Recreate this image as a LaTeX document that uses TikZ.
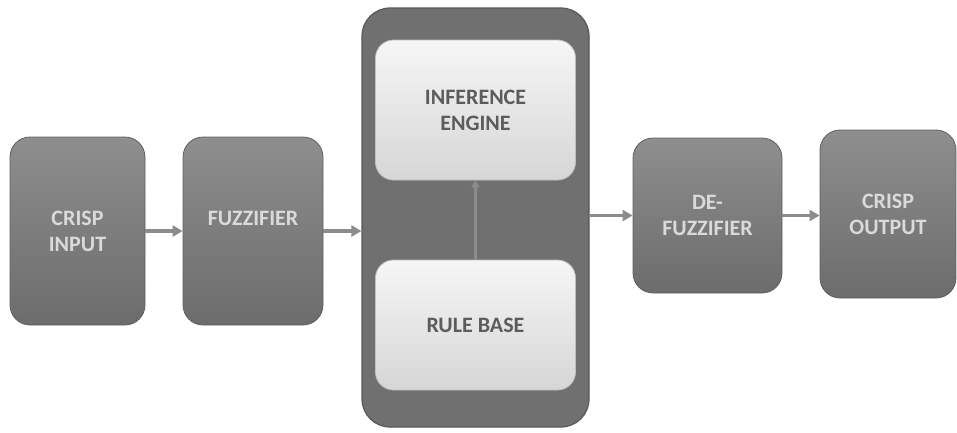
\documentclass[tikz,border=0pt]{standalone}
\usepackage{fontspec}
\setmainfont{Carlito}
\usetikzlibrary{arrows.meta}

\definecolor{boxtop}{RGB}{142,142,142}
\definecolor{boxbot}{RGB}{108,108,108}
\definecolor{boxline}{RGB}{96,96,96}
\definecolor{boxtext}{RGB}{218,218,218}
\definecolor{motorfill}{RGB}{112,112,112}
\definecolor{motorline}{RGB}{88,88,88}
\definecolor{softtop}{RGB}{246,246,246}
\definecolor{softbot}{RGB}{214,214,214}
\definecolor{softline}{RGB}{190,190,190}
\definecolor{softtext}{RGB}{92,92,92}
\definecolor{flecha}{RGB}{140,140,140}

\begin{document}
\begin{tikzpicture}[
    x=1pt, y=-1pt,
    font=\bfseries\fontsize{22}{26}\selectfont,
    bloque/.style={draw=boxline, thick, rounded corners=20pt, top color=boxtop, bottom color=boxbot,
        text=boxtext, align=center, inner sep=0pt},
    motor/.style={draw=motorline, very thick, rounded corners=28pt, fill=motorfill, inner sep=0pt},
    interno/.style={draw=softline, thick, rounded corners=18pt, top color=softtop, bottom color=softbot,
        text=softtext, align=center, inner sep=0pt},
    flechagruesa/.style={draw=flecha, line width=3.5pt, -{Triangle[length=10pt,width=11pt]}},
    flechafina/.style={draw=flecha, line width=2.2pt, -{Triangle[length=7pt,width=8pt]}}
]
    \useasboundingbox (0,0) rectangle (957,432);

    % Bloques exteriores
    \node[bloque, minimum width=135pt, minimum height=188pt] (entrada) at (77.5,231) {CRISP\\INPUT};
    \node[bloque, minimum width=140pt, minimum height=188pt] (fuzz) at (253,231) {FUZZIFIER\\~};
    \node[bloque, minimum width=149pt, minimum height=155pt] (defuzz) at (707.5,215.5) {DE-\\FUZZIFIER};
    \node[bloque, minimum width=136pt, minimum height=168pt] (salida) at (888,214) {CRISP\\OUTPUT};

    % Motor de inferencia
    \node[motor, minimum width=227pt, minimum height=419pt] (motor) at (475.5,217.5) {};
    \node[interno, minimum width=200pt, minimum height=140pt] (inferencia) at (475.5,110) {INFERENCE\\ENGINE};
    \node[interno, minimum width=200pt, minimum height=130pt] (reglas) at (475.5,325) {RULE BASE};

    % Flechas
    \draw[flechagruesa] (entrada.east) -- (fuzz.west);
    \draw[flechagruesa] (fuzz.east) -- (fuzz.east -| motor.west);
    \draw[flechagruesa] (defuzz.west -| motor.east) -- (defuzz.west);
    \draw[flechagruesa] (defuzz.east) -- (defuzz.east -| salida.west);
    \draw[flechafina] (reglas.north) -- (inferencia.south);
\end{tikzpicture}
\end{document}
